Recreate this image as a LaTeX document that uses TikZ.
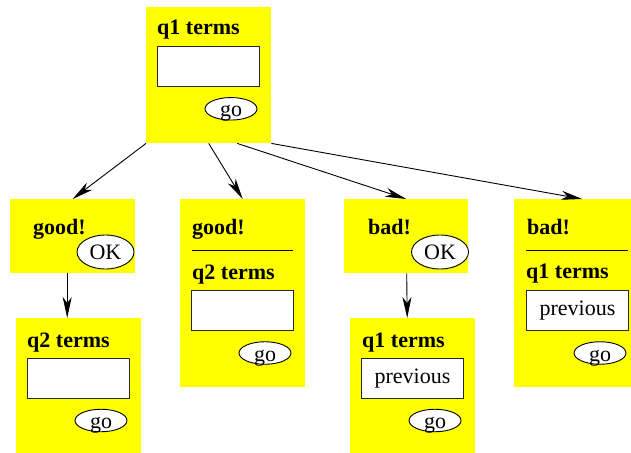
\documentclass[tikz,border=0pt]{standalone}
\usepackage{fontspec}
\setmainfont{Liberation Serif}
\usetikzlibrary{arrows.meta}
\usetikzlibrary{shapes.geometric}
\definecolor{panelyellow}{RGB}{255,255,0}

\begin{document}
\begin{tikzpicture}[x=1pt, y=-1pt,
panel/.style={rectangle, fill=panelyellow, inner sep=0pt, anchor=north west},
title/.style={anchor=base west, inner sep=0pt, font=\fontsize{22}{26}\selectfont\bfseries},
field/.style={rectangle, draw=black!85, fill=white, line width=1pt, inner sep=0pt, anchor=north west,
  minimum width=102pt, minimum height=40pt, font=\fontsize{22}{26}\selectfont},
gobtn/.style={ellipse, draw=black, fill=white, line width=0.9pt, inner sep=0pt, minimum width=52pt, minimum height=22.5pt},
okbtn/.style={ellipse, draw=black, fill=white, line width=0.9pt, inner sep=0pt, minimum width=57pt, minimum height=34pt,
  font=\fontsize{22}{26}\selectfont},
golabel/.style={anchor=base, inner sep=0pt, font=\fontsize{22}{26}\selectfont},
arr/.style={-{Stealth[length=21pt, width=9pt, inset=6pt]}, line width=0.9pt},
]
\useasboundingbox (0,0) rectangle (631,452);
%Panels
\node[panel, minimum width=125pt, minimum height=136pt] (top) at (146,7) {};
\node[panel, minimum width=125pt, minimum height=74pt]  (goodok) at (10,199) {};
\node[panel, minimum width=125pt, minimum height=136pt] (goodnext) at (16,318) {};
\node[panel, minimum width=125pt, minimum height=188pt] (goodnew) at (180,199) {};
\node[panel, minimum width=124pt, minimum height=74pt]  (badok) at (344,199) {};
\node[panel, minimum width=125pt, minimum height=136pt] (badnext) at (350,318) {};
\node[panel, minimum width=126pt, minimum height=188pt] (badnew) at (514,199) {};
%Top panel
\node[title] (toptitle) at (157,34.5) {q1 terms};
\node[field] (topfield) at (157,46) {};
\node[gobtn] (topgo) at (231,108.8) {};
\node[golabel] (topgotext) at ([yshift=-8pt]topgo.center) {go};
%good! OK
\node[title] (goodoktitle) at (33,234) {good!};
\node[okbtn] (goodokbtn) at (105.5,252) {OK};
\node[title] (goodnexttitle) at (27,347) {q2 terms};
\node[field] (goodnextfield) at (27,358) {};
\node[gobtn] (goodnextgo) at (101,420.5) {};
\node[golabel] (goodnextgotext) at ([yshift=-8pt]goodnextgo.center) {go};
%good! q2 terms
\node[title] (goodnewtitle) at (192,234) {good!};
\draw[line width=1pt] (192,250) -- (293,250);
\node[title] (goodnewterms) at (192,279) {q2 terms};
\node[field] (goodnewfield) at (191,290) {};
\node[gobtn] (goodnewgo) at (265,353) {};
\node[golabel] (goodnewgotext) at ([yshift=-8pt]goodnewgo.center) {go};
%bad! OK
\node[title] (badoktitle) at (368,234) {bad!};
\node[okbtn] (badokbtn) at (440,252) {OK};
\node[title] (badnexttitle) at (362,347) {q1 terms};
\node[field] (badnextfield) at (361,358) {previous};
\node[gobtn] (badnextgo) at (435,420.5) {};
\node[golabel] (badnextgotext) at ([yshift=-8pt]badnextgo.center) {go};
%bad! q1 terms
\node[title] (badnewtitle) at (527,234) {bad!};
\draw[line width=1pt] (526,250) -- (628,250);
\node[title] (badnewterms) at (526,278) {q1 terms};
\node[field] (badnewfield) at (526,290) {previous};
\node[gobtn] (badnewgo) at (600,353) {};
\node[golabel] (badnewgotext) at ([yshift=-8pt]badnewgo.center) {go};
%Lines
\draw[arr] (top.south west) -- (goodok.north);
\draw[arr] (top.south) -- (goodnew.north);
\draw[arr] ([xshift=28.5pt]top.south) -- (badok.north);
\draw[arr] (top.south east) -- ([xshift=5pt]badnew.north);
\draw[arr] ([xshift=-5.5pt]goodok.south) -- ([xshift=-11.5pt]goodnext.north);
\draw[arr] ([xshift=0.5pt]badok.south) -- ([xshift=-5.5pt]badnext.north);
\end{tikzpicture}
\end{document}
